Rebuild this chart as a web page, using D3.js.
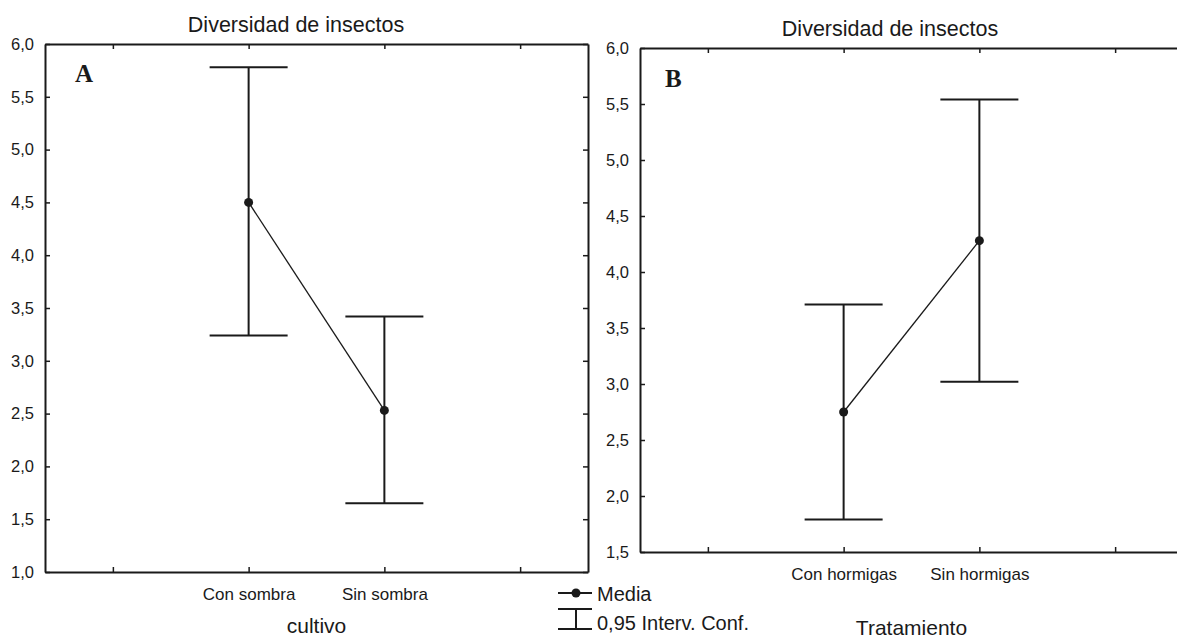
<!DOCTYPE html>
<html>
<head>
<meta charset="utf-8">
<script src="https://cdn.jsdelivr.net/npm/d3@7"></script>
<style>
  body { margin: 0; background: #fff; }
  text { fill: #1a1a1a; }
</style>
</head>
<body>
<div id="chart"></div>
<script>
// panel A
const catsA = ['Con sombra', 'Sin sombra'];
const meanA = [4.50, 2.53];
const loA = [3.24, 1.65];
const hiA = [5.78, 3.42];
const ticksA = [1.0, 1.5, 2.0, 2.5, 3.0, 3.5, 4.0, 4.5, 5.0, 5.5, 6.0];

// panel B
const catsB = ['Con hormigas', 'Sin hormigas'];
const meanB = [2.75, 4.28];
const loB = [1.79, 3.02];
const hiB = [3.71, 5.54];
const ticksB = [1.5, 2.0, 2.5, 3.0, 3.5, 4.0, 4.5, 5.0, 5.5, 6.0];

const FONT = "'Liberation Sans', Arial, sans-serif";
const INK = '#1a1a1a';

const svg = d3.select('#chart').append('svg')
  .attr('width', 1177)
  .attr('height', 640);

const es = d3.formatLocale({ decimal: ',', thousands: '.', grouping: [3], currency: ['', ''] });
const fmt = es.format('.1f');

function panel(cfg) {
  const g = svg.append('g')
    .attr('transform', `translate(${cfg.left},${cfg.top})`);

  // blank slots either side so the categories sit at 3/8 and 5/8
  const x = d3.scalePoint()
    .domain(['_l', ...cfg.cats, '_r'])
    .range([0, cfg.width])
    .padding(0.5);

  const y = d3.scaleLinear()
    .domain(cfg.yDomain)
    .range([cfg.height, 0]);

  const styleAxis = (sel) => {
    sel.selectAll('path.domain').attr('stroke', INK).attr('stroke-width', 2);
    sel.selectAll('.tick line').attr('stroke', INK).attr('stroke-width', 1.5);
    sel.selectAll('text').attr('font-family', FONT).attr('fill', INK);
  };

  // bottom axis with category names
  g.append('g')
    .attr('transform', `translate(0,${cfg.height})`)
    .call(d3.axisBottom(x).tickSizeInner(-5).tickSizeOuter(0).tickPadding(16)
      .tickFormat(d => (d.startsWith('_') ? '' : d)))
    .call(styleAxis)
    .selectAll('text').attr('font-size', 17);

  // top axis, ticks only
  g.append('g')
    .call(d3.axisTop(x).tickSizeInner(-5).tickSizeOuter(0).tickFormat(''))
    .call(styleAxis);

  // left axis
  g.append('g')
    .call(d3.axisLeft(y).tickValues(cfg.yTicks).tickSizeInner(-5).tickSizeOuter(0)
      .tickPadding(11).tickFormat(fmt))
    .call(styleAxis)
    .selectAll('text').attr('font-size', 16.5);

  // right axis, ticks only
  g.append('g')
    .attr('transform', `translate(${cfg.width},0)`)
    .call(d3.axisRight(y).tickValues(cfg.yTicks).tickSizeInner(-5).tickSizeOuter(0).tickFormat(''))
    .call(styleAxis);

  const rows = cfg.cats.map((c, i) => ({ c, m: cfg.mean[i], lo: cfg.lo[i], hi: cfg.hi[i] }));
  const cap = 39;

  // line joining the means
  g.append('path')
    .datum(rows)
    .attr('fill', 'none')
    .attr('stroke', INK)
    .attr('stroke-width', 1.3)
    .attr('d', d3.line().x(d => x(d.c)).y(d => y(d.m)));

  const bars = g.selectAll('.ci').data(rows).enter().append('g').attr('class', 'ci');
  bars.append('line')
    .attr('x1', d => x(d.c)).attr('x2', d => x(d.c))
    .attr('y1', d => y(d.lo)).attr('y2', d => y(d.hi));
  bars.append('line')
    .attr('x1', d => x(d.c) - cap).attr('x2', d => x(d.c) + cap)
    .attr('y1', d => y(d.hi)).attr('y2', d => y(d.hi));
  bars.append('line')
    .attr('x1', d => x(d.c) - cap).attr('x2', d => x(d.c) + cap)
    .attr('y1', d => y(d.lo)).attr('y2', d => y(d.lo));
  bars.selectAll('line').attr('stroke', INK).attr('stroke-width', 2);

  g.selectAll('.mean').data(rows).enter().append('circle')
    .attr('class', 'mean')
    .attr('cx', d => x(d.c))
    .attr('cy', d => y(d.m))
    .attr('r', 4.5)
    .attr('fill', INK);

  // panel letter
  g.append('text')
    .attr('x', cfg.letterDx)
    .attr('y', cfg.letterDy)
    .attr('font-family', "'Liberation Serif', 'Times New Roman', serif")
    .attr('font-weight', 'bold')
    .attr('font-size', 25)
    .text(cfg.letter);

  // title and axis title
  svg.append('text')
    .attr('x', cfg.titleX)
    .attr('y', cfg.titleY)
    .attr('text-anchor', 'middle')
    .attr('font-family', FONT)
    .attr('font-size', 21.5)
    .text('Diversidad de insectos');

  svg.append('text')
    .attr('x', cfg.left + cfg.width / 2)
    .attr('y', cfg.xTitleY)
    .attr('text-anchor', 'middle')
    .attr('font-family', FONT)
    .attr('font-size', 21)
    .text(cfg.xTitle);
}

panel({
  left: 45, top: 44, width: 543, height: 528,
  cats: catsA, mean: meanA, lo: loA, hi: hiA,
  yDomain: [1, 6], yTicks: ticksA,
  letter: 'A', letterDx: 30, letterDy: 38,
  titleX: 296, titleY: 32,
  xTitle: 'cultivo', xTitleY: 633,
});

panel({
  left: 640, top: 48, width: 543, height: 504,
  cats: catsB, mean: meanB, lo: loB, hi: hiB,
  yDomain: [1.5, 6], yTicks: ticksB,
  letter: 'B', letterDx: 25, letterDy: 39,
  titleX: 890, titleY: 36,
  xTitle: 'Tratamiento', xTitleY: 635,
});

// legend
const leg = svg.append('g').attr('transform', 'translate(558,593)');
leg.append('line').attr('x1', 0).attr('x2', 34).attr('y1', 0).attr('y2', 0)
  .attr('stroke', INK).attr('stroke-width', 2);
leg.append('circle').attr('cx', 18).attr('cy', 0).attr('r', 4.5).attr('fill', INK);
leg.append('text').attr('x', 39).attr('y', 8)
  .attr('font-family', FONT).attr('font-size', 20).text('Media');
leg.append('line').attr('x1', 0).attr('x2', 34).attr('y1', 16).attr('y2', 16)
  .attr('stroke', INK).attr('stroke-width', 2);
leg.append('line').attr('x1', 0).attr('x2', 34).attr('y1', 36).attr('y2', 36)
  .attr('stroke', INK).attr('stroke-width', 2);
leg.append('line').attr('x1', 18).attr('x2', 18).attr('y1', 16).attr('y2', 36)
  .attr('stroke', INK).attr('stroke-width', 2);
leg.append('text').attr('x', 39).attr('y', 37)
  .attr('font-family', FONT).attr('font-size', 20).text('0,95 Interv. Conf.');
</script>
</body>
</html>
